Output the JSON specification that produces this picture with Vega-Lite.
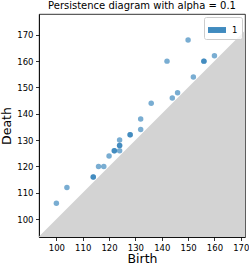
{
  "$schema": "https://vega.github.io/schema/vega-lite/v6.json",
  "width": 206,
  "height": 223,
  "autosize": "none",
  "padding": {"left": 39, "top": 14, "right": 4, "bottom": 28},
  "background": "white",
  "config": {
    "font": "DejaVu Sans",
    "view": {"stroke": "black", "strokeWidth": 0.8},
    "axis": {
      "grid": false,
      "domainColor": "black",
      "domainWidth": 0.8,
      "tickColor": "black",
      "tickWidth": 0.8,
      "tickSize": 3.5,
      "labelFontSize": 8.5,
      "labelColor": "black",
      "labelPadding": 2.5,
      "labelOverlap": false,
      "labelFlush": false,
      "titleFontSize": 12.5,
      "titleFontWeight": "normal",
      "titleColor": "black"
    }
  },
  "title": {
    "text": "Persistence diagram with alpha = 0.1",
    "fontSize": 10,
    "fontWeight": "normal",
    "color": "black",
    "offset": 3
  },
  "datasets": {
    "points": [
      {"birth": 100, "death": 106, "dim": "1"},
      {"birth": 104, "death": 112, "dim": "1"},
      {"birth": 114, "death": 116, "dim": "1"},
      {"birth": 114, "death": 116, "dim": "1"},
      {"birth": 116, "death": 120, "dim": "1"},
      {"birth": 118, "death": 120, "dim": "1"},
      {"birth": 120, "death": 124, "dim": "1"},
      {"birth": 122, "death": 126, "dim": "1"},
      {"birth": 122, "death": 126, "dim": "1"},
      {"birth": 124, "death": 126, "dim": "1"},
      {"birth": 124, "death": 128, "dim": "1"},
      {"birth": 124, "death": 128, "dim": "1"},
      {"birth": 124, "death": 130, "dim": "1"},
      {"birth": 128, "death": 132, "dim": "1"},
      {"birth": 128, "death": 132, "dim": "1"},
      {"birth": 132, "death": 134, "dim": "1"},
      {"birth": 132, "death": 138, "dim": "1"},
      {"birth": 136, "death": 144, "dim": "1"},
      {"birth": 144, "death": 146, "dim": "1"},
      {"birth": 146, "death": 148, "dim": "1"},
      {"birth": 152, "death": 154, "dim": "1"},
      {"birth": 142, "death": 160, "dim": "1"},
      {"birth": 156, "death": 160, "dim": "1"},
      {"birth": 156, "death": 160, "dim": "1"},
      {"birth": 160, "death": 162, "dim": "1"},
      {"birth": 150, "death": 168, "dim": "1"}
    ],
    "diag": [
      {"d": 90},
      {"d": 180}
    ]
  },
  "layer": [
    {
      "data": {"name": "diag"},
      "mark": {"type": "area", "color": "#d3d3d3", "clip": true, "opacity": 1},
      "encoding": {
        "x": {
          "field": "d", "type": "quantitative",
          "scale": {"domain": [93.4, 171.6], "nice": false, "zero": false},
          "axis": {"title": "Birth", "values": [100, 110, 120, 130, 140, 150, 160, 170], "titlePadding": 1}
        },
        "y": {
          "field": "d", "type": "quantitative",
          "scale": {"domain": [93.2, 177.9], "nice": false, "zero": false},
          "axis": {"title": "Death", "values": [100, 110, 120, 130, 140, 150, 160, 170], "titlePadding": 3}
        },
        "y2": {"datum": 80}
      }
    },
    {
      "data": {"name": "points"},
      "mark": {"type": "circle", "size": 30, "opacity": 0.6, "clip": true},
      "encoding": {
        "x": {
          "field": "birth", "type": "quantitative",
          "scale": {"domain": [93.4, 171.6], "nice": false, "zero": false},
          "axis": {"title": "Birth", "values": [100, 110, 120, 130, 140, 150, 160, 170], "titlePadding": 1}
        },
        "y": {
          "field": "death", "type": "quantitative",
          "scale": {"domain": [93.2, 177.9], "nice": false, "zero": false},
          "axis": {"title": "Death", "values": [100, 110, 120, 130, 140, 150, 160, 170], "titlePadding": 3}
        },
        "color": {
          "field": "dim", "type": "nominal",
          "scale": {"range": ["#1f77b4"]},
          "legend": {
            "title": null,
            "orient": "top-right",
            "offset": 3,
            "padding": 4,
            "fillColor": "rgba(255,255,255,0.8)",
            "strokeColor": "#cccccc",
            "cornerRadius": 2,
            "symbolType": "M-1,-0.33H1V0.33H-1Z",
            "symbolSize": 324,
            "symbolStrokeWidth": 0,
            "symbolOpacity": 0.85,
            "labelFontSize": 8.5,
            "labelColor": "black",
            "labelOffset": 6
          }
        }
      }
    }
  ]
}
